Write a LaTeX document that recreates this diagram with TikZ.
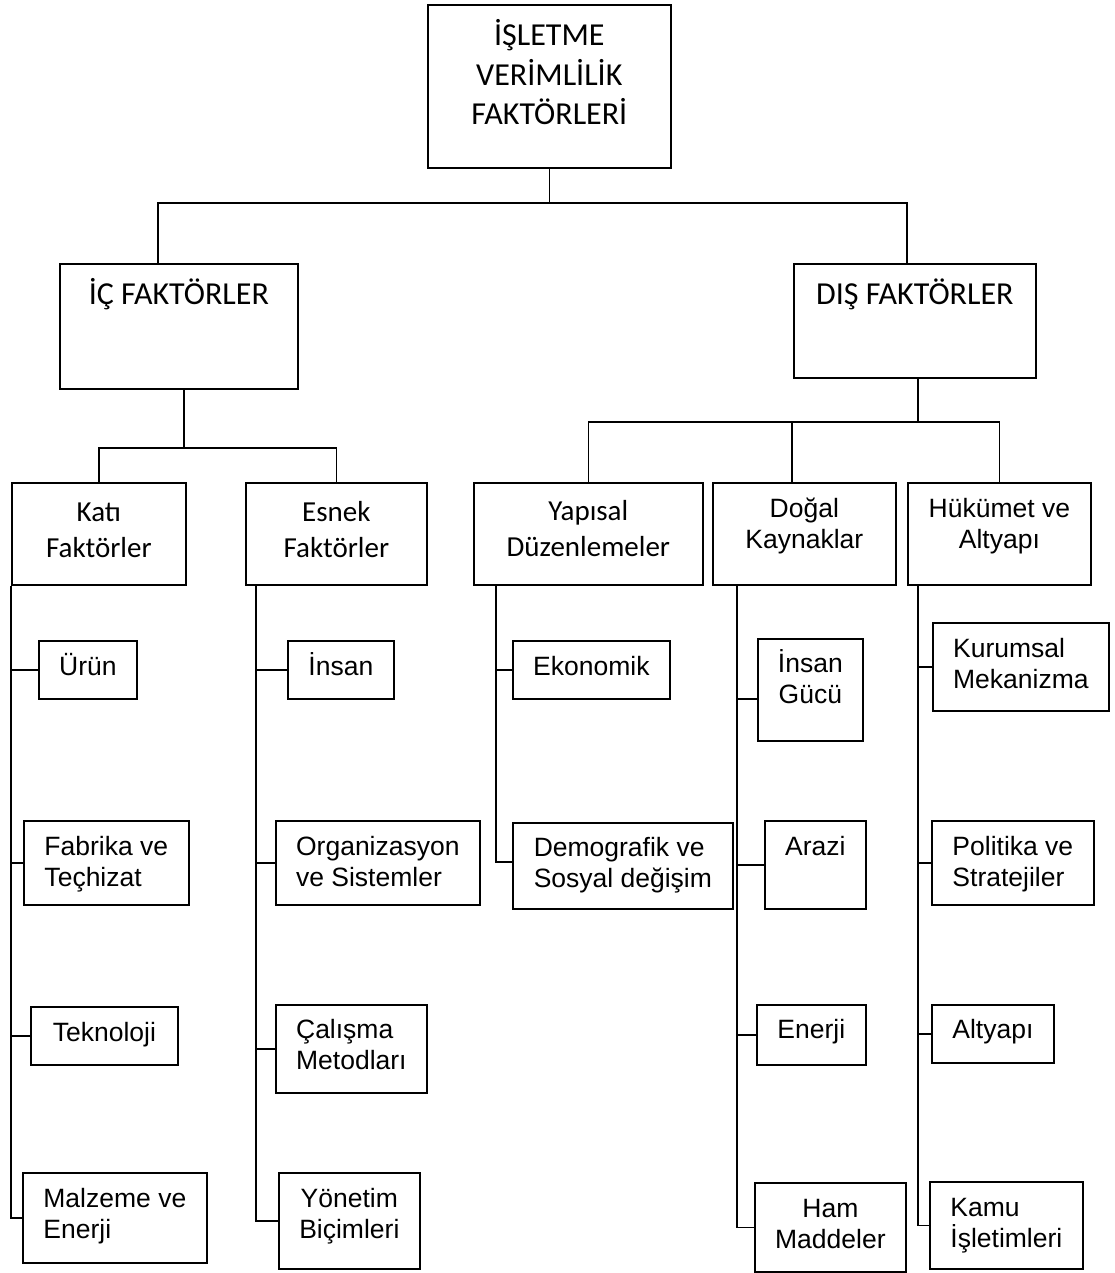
\documentclass[tikz,border=0pt]{standalone}
\usepackage{fontspec}
\setmainfont{Liberation Sans}
\newfontfamily\calibri{Carlito}
\usepackage{tikz}
\usetikzlibrary{positioning}

\begin{document}
\begin{tikzpicture}[x=1pt, y=-1pt]
  \tikzset{kutu/.style={draw, line width=1.7pt, inner sep=0pt, anchor=north west, align=center},
           ust/.style={kutu, font=\calibri\fontsize{32}{39.5}\selectfont},
           orta/.style={kutu, font=\calibri\fontsize{29}{36}\selectfont},
           yaprak/.style={kutu, font=\fontsize{26.5}{30.5}\selectfont},
           sol/.style={align=left},
           hat/.style={line width=1.5pt}}
  \useasboundingbox (0,0) rectangle (1115,1273);

  \node[ust, minimum width=243pt, text height=120pt, text depth=43pt] (top) at (427,4) {İŞLETME\\VERİMLİLİK\\FAKTÖRLERİ};
  \node[ust, minimum width=238pt, text height=41pt, text depth=84pt] (ic) at (59,263) {İÇ FAKTÖRLER};
  \node[ust, minimum width=242pt, text height=41pt, text depth=73pt] (dis) at (793,263) {DIŞ FAKTÖRLER};

  \node[orta, minimum width=174pt, text height=75pt, text depth=27pt] (kati) at (11,482) {Katı\\Faktörler};
  \node[orta, minimum width=181pt, text height=75pt, text depth=27pt] (esnek) at (245,482) {Esnek\\Faktörler};
  \node[orta, minimum width=229pt, text height=74pt, text depth=28pt] (yapisal) at (473,482) {Yapısal\\Düzenlemeler};
  \node[yaprak, minimum width=183pt, text height=65.5pt, text depth=36.5pt] (dogal) at (712,482) {Doğal\\Kaynaklar};
  \node[yaprak, minimum width=183pt, text height=65.5pt, text depth=36.5pt] (hukumet) at (907,482) {Hükümet ve\\Altyapı};

  \node[yaprak, minimum width=98pt, text height=35pt, text depth=23pt] (urun) at (38,640) {Ürün};
  \node[yaprak, sol, minimum width=165pt, text height=65.5pt, text depth=18.5pt] (fabrika) at (23,820) {Fabrika ve\\Teçhizat};
  \node[yaprak, minimum width=147pt, text height=35pt, text depth=23pt] (teknoloji) at (30,1006) {Teknoloji};
  \node[yaprak, sol, minimum width=184pt, text height=65.5pt, text depth=24.5pt] (malzeme) at (22,1172) {Malzeme ve\\Enerji};

  \node[yaprak, minimum width=106pt, text height=35pt, text depth=23pt] (insan) at (287,640) {İnsan};
  \node[yaprak, sol, minimum width=204pt, text height=65.5pt, text depth=18.5pt] (organizasyon) at (275,820) {Organizasyon\\ve Sistemler};
  \node[yaprak, sol, minimum width=151pt, text height=64.5pt, text depth=23.5pt] (calisma) at (275,1004) {Çalışma\\Metodları};
  \node[yaprak, minimum width=141pt, text height=65.5pt, text depth=30.5pt] (yonetim) at (278,1172) {Yönetim\\Biçimleri};

  \node[yaprak, minimum width=157pt, text height=35pt, text depth=23pt] (ekonomik) at (512,640) {Ekonomik};
  \node[yaprak, sol, minimum width=220pt, text height=64.5pt, text depth=21.5pt] (demografik) at (512,822) {Demografik ve\\Sosyal değişim};

  \node[yaprak, minimum width=105pt, text height=64.5pt, text depth=37.5pt] (insangucu) at (757,638) {İnsan\\Gücü};
  \node[yaprak, minimum width=101pt, text height=35pt, text depth=53pt] (arazi) at (764,820) {Arazi};
  \node[yaprak, minimum width=109pt, text height=34pt, text depth=26pt] (enerji) at (756,1004) {Enerji};
  \node[yaprak, minimum width=151pt, text height=65.5pt, text depth=23.5pt] (ham) at (754,1182) {Ham\\Maddeler};

  \node[yaprak, sol, minimum width=176pt, text height=65.5pt, text depth=22.5pt] (kurumsal) at (932,622) {Kurumsal\\Mekanizma};
  \node[yaprak, sol, minimum width=162pt, text height=65.5pt, text depth=18.5pt] (politika) at (931,820) {Politika ve\\Stratejiler};
  \node[yaprak, minimum width=122pt, text height=34pt, text depth=24pt] (altyapi) at (931,1004) {Altyapı};
  \node[yaprak, sol, minimum width=153pt, text height=65.5pt, text depth=21.5pt] (kamu) at (929,1181) {Kamu\\İşletimleri};

  \coordinate (b0l) at (158,203);
  \coordinate (b0r) at (907,203);
  \draw[hat] (top.south) -- (top.south |- b0l);
  \draw[hat] (ic.north -| b0l) -- (b0l) -- (b0r) -- (dis.north -| b0r);

  \coordinate (b1) at (184,448);
  \draw[hat] (ic.south -| b1) -- (b1);
  \draw[hat] (kati.north) |- (b1) -| (esnek.north);

  \coordinate (b2) at (918,422);
  \coordinate (b2m) at (792,422);
  \draw[hat] (dis.south -| b2) -- (b2);
  \draw[hat] (yapisal.north) |- (b2) -| (hukumet.north);
  \draw[hat] (b2m) -- (dogal.north -| b2m);

  \draw[hat] (kati.south west) |- (malzeme.west);
  \foreach \k in {urun,fabrika,teknoloji}
    \draw[hat] (kati.south west |- \k.west) -- (\k.west);

  \coordinate (e0) at ([xshift=11pt]esnek.south west);
  \draw[hat] (e0) |- (yonetim.west);
  \foreach \k in {insan,organizasyon,calisma}
    \draw[hat] (e0 |- \k.west) -- (\k.west);

  \coordinate (y0) at ([xshift=23pt]yapisal.south west);
  \draw[hat] (y0) |- ([yshift=4pt]demografik.west);
  \draw[hat] (y0 |- ekonomik.west) -- (ekonomik.west);

  \coordinate (d0) at ([xshift=25pt]dogal.south west);
  \draw[hat] (d0) |- (ham.west);
  \draw[hat] (d0 |- insangucu.west) ++(0,9) -- ([yshift=-9pt]insangucu.west);
  \foreach \k in {arazi,enerji}
    \draw[hat] (d0 |- \k.west) -- (\k.west);

  \coordinate (h0) at ([xshift=11pt]hukumet.south west);
  \draw[hat] (h0) |- (kamu.west);
  \foreach \k in {kurumsal,politika,altyapi}
    \draw[hat] (h0 |- \k.west) -- (\k.west);
\end{tikzpicture}
\end{document}
